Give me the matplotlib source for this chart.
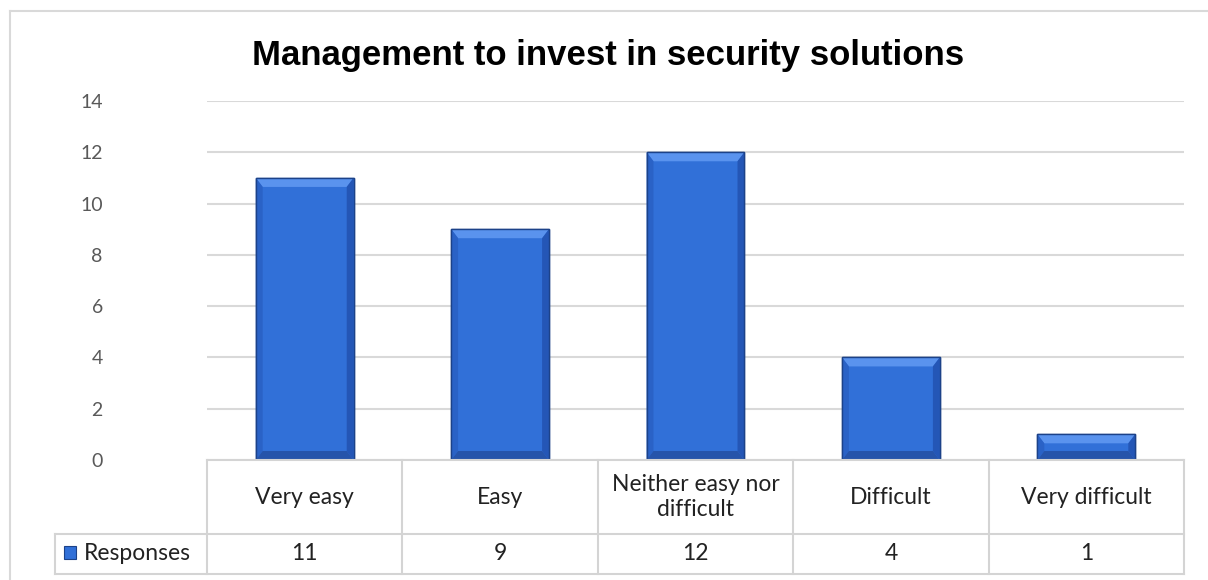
import numpy as np
import matplotlib.pyplot as plt
from matplotlib.patches import Polygon, Rectangle
from matplotlib.lines import Line2D

categories = ["Very easy", "Easy", "Neither easy nor\ndifficult", "Difficult", "Very difficult"]
responses = [11, 9, 12, 4, 1]
series_name = "Responses"
title = "Management to invest in security solutions"

W, H = 1208, 580
fig = plt.figure(figsize=(W / 100, H / 100), dpi=100)

def fx(px):
    return px / W

def fy(py):
    return 1 - py / H

# plot area in pixels
left, right, top, bottom = 207, 1184, 101, 460
ax = fig.add_axes([fx(left), fy(bottom), fx(right) - fx(left), fy(top) - fy(bottom)])

font = "Lato"
grid_col = "#d9d9d9"

x = np.arange(len(categories))
bars = ax.bar(x, responses, width=0.5, color="#3170d8", edgecolor="#1c4289", linewidth=1.0, zorder=3)

# bevel effect on each bar
for b in bars:
    x0, y0 = b.get_x(), b.get_y()
    w, h = b.get_width(), b.get_height()
    bx = w * 0.07
    by = min(14 * 9 / (bottom - top), h * 0.35)
    x1, y1 = x0 + w, y0 + h
    ax.add_patch(Polygon([(x0, y1), (x1, y1), (x1 - bx, y1 - by), (x0 + bx, y1 - by)],
                         closed=True, color="#5a93ee", lw=0, zorder=4))
    ax.add_patch(Polygon([(x0, y0), (x0 + bx, y0 + by), (x0 + bx, y1 - by), (x0, y1)],
                         closed=True, color="#2a62c6", lw=0, zorder=4))
    ax.add_patch(Polygon([(x1, y0), (x1 - bx, y0 + by), (x1 - bx, y1 - by), (x1, y1)],
                         closed=True, color="#2456b6", lw=0, zorder=4))
    ax.add_patch(Polygon([(x0, y0), (x1, y0), (x1 - bx, y0 + by), (x0 + bx, y0 + by)],
                         closed=True, color="#2654aa", lw=0, zorder=4))
    ax.add_patch(Rectangle((x0, y0), w, h, fill=False, ec="#1c4289", lw=1.0, zorder=5))

ax.set_xlim(-0.5, len(categories) - 0.5)
ax.set_ylim(0, 14)
ax.set_yticks(range(0, 15, 2))
ax.yaxis.grid(True, color=grid_col, linewidth=1.5, zorder=0)
ax.set_xticks([])
for s in ax.spines.values():
    s.set_visible(False)
ax.tick_params(axis="y", length=0, pad=75, labelsize=14, labelcolor="#595959")
for lbl in ax.get_yticklabels():
    lbl.set_fontfamily(font)

# chart frame
fig.add_artist(Line2D([fx(10), fx(10)], [fy(11), fy(590)], color=grid_col, lw=1.5))
fig.add_artist(Line2D([fx(10), fx(1220)], [fy(11), fy(11)], color=grid_col, lw=1.5))

fig.text(fx(608), fy(55), title, ha="center", va="center", fontsize=25, fontweight="bold",
         family="Liberation Sans")

# data table under the plot
row1, row2, row3 = 460, 534, 574
col_w = (right - left) / len(categories)
tcol = "#d4d4d4"
lw = 1.5
fig.add_artist(Line2D([fx(left), fx(right)], [fy(row1), fy(row1)], color=tcol, lw=lw))
for yy in (row2, row3):
    fig.add_artist(Line2D([fx(55), fx(right)], [fy(yy), fy(yy)], color=tcol, lw=lw))
fig.add_artist(Line2D([fx(55), fx(55)], [fy(row2), fy(row3)], color=tcol, lw=lw))
for i in range(len(categories) + 1):
    xx = left + i * col_w
    fig.add_artist(Line2D([fx(xx), fx(xx)], [fy(row1), fy(row3)], color=tcol, lw=lw))

for i, (c, v) in enumerate(zip(categories, responses)):
    cx = left + (i + 0.5) * col_w
    fig.text(fx(cx), fy((row1 + row2) / 2), c, ha="center", va="center", fontsize=16.5,
             family=font, color="#222222", linespacing=1.2)
    fig.text(fx(cx), fy((row2 + row3) / 2), str(v), ha="center", va="center", fontsize=16.5,
             family=font, color="#222222")

# legend key in the table
fig.add_artist(Rectangle((fx(64), fy(559)), fx(12), fy(546) - fy(559), transform=fig.transFigure,
                         facecolor="#3170d8", edgecolor="#1c4289", lw=0.8))
fig.text(fx(84), fy((row2 + row3) / 2), series_name, ha="left", va="center", fontsize=16.5,
         family=font, color="#222222")

fig.savefig("out.png", dpi=100)
